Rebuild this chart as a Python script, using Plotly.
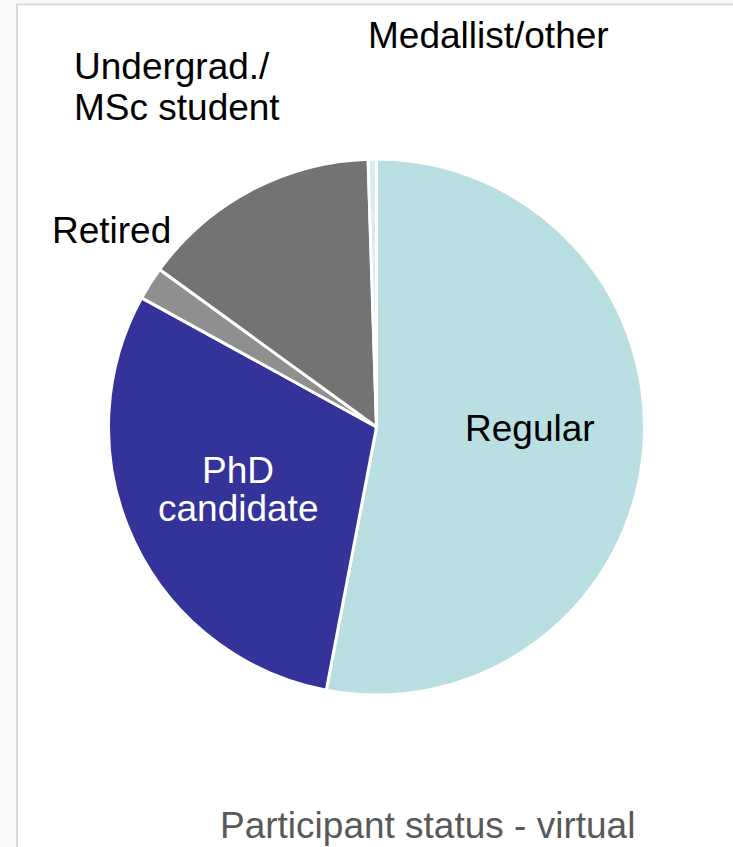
import plotly.graph_objects as go

W, H = 733, 847

labels = ["Regular", "PhD candidate", "Retired", "Undergrad./ MSc student", "Medallist/other"]
values = [106, 60, 4, 29, 1]
colors = ["#b9dfe3", "#333399", "#8f8f8f", "#737373", "#d6ecee"]
title_text = "Participant status - virtual"


def px(x):
    return x / W


def py(y):
    return 1 - y / H


cx, cy, r = 376.5, 427, 268

fig = go.Figure(go.Pie(
    labels=labels,
    values=values,
    marker=dict(colors=colors, line=dict(color="white", width=3)),
    sort=False,
    direction="clockwise",
    rotation=0,
    textinfo="none",
    hoverinfo="label+value",
    showlegend=False,
    domain=dict(x=[px(cx - r), px(cx + r)], y=[py(cy + r), py(cy - r)]),
))

FAM = "Liberation Sans, Arial, sans-serif"
font = dict(family=FAM, size=37, color="black")
wfont = dict(family=FAM, size=37, color="white")

annots = [
    dict(text="Medallist/other", x=px(366), y=py(36), xanchor="left", font=font),
    dict(text="Undergrad./", x=px(72), y=py(66), xanchor="left", font=font),
    dict(text="MSc student", x=px(72), y=py(107), xanchor="left", font=font),
    dict(text="Retired", x=px(50), y=py(231), xanchor="left", font=font),
    dict(text="Regular", x=px(463), y=py(429), xanchor="left", font=font),
    dict(text="PhD", x=px(237.5), y=py(470.5), xanchor="center", font=wfont),
    dict(text="candidate", x=px(237.5), y=py(508), xanchor="center", font=wfont),
    dict(text=title_text, x=px(427.5), y=py(825), xanchor="center",
         font=dict(family=FAM, size=37, color="#595959")),
]
for a in annots:
    a.update(xref="paper", yref="paper", showarrow=False, yanchor="middle", align="left")

fig.update_layout(
    width=W, height=H,
    margin=dict(l=0, r=0, t=0, b=0),
    paper_bgcolor="#f9f9f9",
    plot_bgcolor="white",
    annotations=annots,
    shapes=[dict(type="rect", xref="paper", yref="paper", layer="below",
                 x0=px(17), x1=px(780), y0=py(900), y1=py(4.5),
                 fillcolor="white", line=dict(color="#d9d9d9", width=2))],
)

fig.write_html(
    "out.html",
    config={"displayModeBar": False},
    post_script="document.body.style.margin='0';document.body.style.overflow='hidden';",
)
